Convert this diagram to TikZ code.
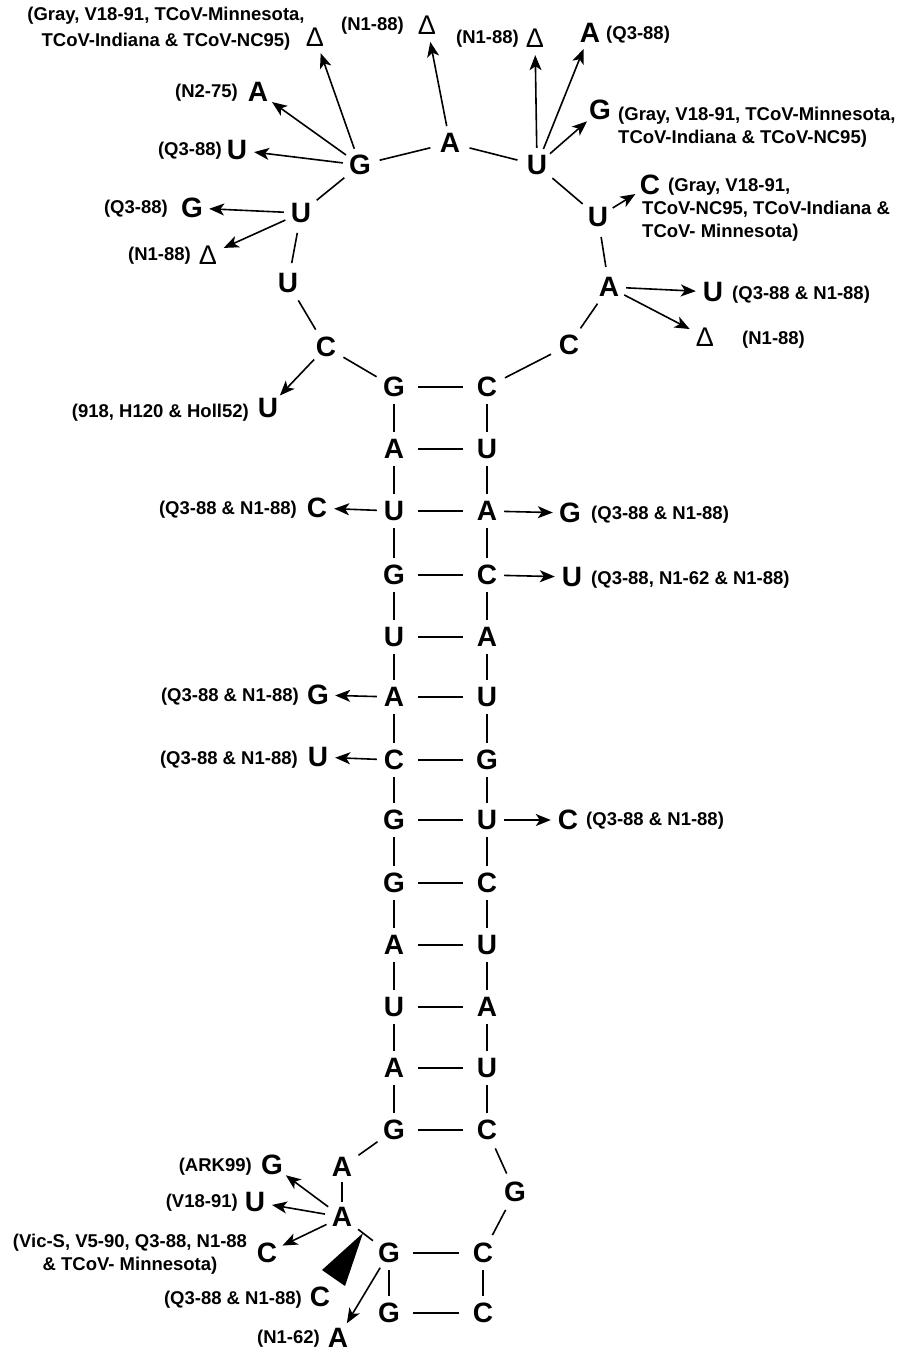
\documentclass[tikz,border=0pt]{standalone}
\usepackage{fontspec}
\setmainfont{Liberation Sans}
\usetikzlibrary{arrows.meta}
\begin{document}
\begin{tikzpicture}[x=1pt,y=-1pt,
  nt/.style={circle,inner sep=0pt,minimum size=34pt,font=\bfseries\fontsize{28}{28}\selectfont},
  del/.style={circle,inner sep=0pt,minimum size=34pt,font=\fontsize{27}{27}\selectfont},
  lab/.style={inner sep=0pt,font=\bfseries\fontsize{18.5}{23}\selectfont},
  bond/.style={line width=1.6pt},
  lbond/.style={bond,shorten >=3pt,shorten <=3pt},
  pair/.style={bond,shorten >=7pt,shorten <=7pt},
  mut/.style={line width=1.6pt,-{Stealth[length=15pt,width=12pt,inset=4pt]}},
]
\useasboundingbox (0,0) rectangle (900,1354);

% ---- stem ----
\foreach \i/\y/\l/\r in {1/387/G/C,2/449/A/U,3/511/U/A,4/575/G/C,5/637/U/A,6/697/A/U,7/760/C/G,8/820/G/U,9/883/G/C,10/945/A/U,11/1007/U/A,12/1068/A/U,13/1130/G/C}{
  \node[nt] (L\i) at (394,\y) {\l};
  \node[nt] (R\i) at (487,\y) {\r};
}
\foreach \i in {1,...,13} \draw[pair] (L\i) -- (R\i);
\foreach \i [count=\j from 2] in {1,...,12} {
  \draw[bond] (L\i) -- (L\j);
  \draw[bond] (R\i) -- (R\j);
}

% ---- loop ----
\node[nt] (g1) at (360,165) {G};
\node[nt] (a1) at (450,143) {A};
\node[nt] (u1) at (537,165) {U};
\node[nt] (u2) at (598,217) {U};
\node[nt] (a2) at (609,287) {A};
\node[nt] (c1) at (569,345) {C};
\node[nt] (c2) at (326,347) {C};
\node[nt] (u3) at (288,283) {U};
\node[nt] (u4) at (301,213) {U};
\foreach \p/\q in {L1/c2,c2/u3,u3/u4,u4/g1,g1/a1,a1/u1,u1/u2,u2/a2,a2/c1,c1/R1}
  \draw[lbond] (\p) -- (\q);

% ---- bottom ----
\node[nt] (bA1) at (342,1167) {A};
\node[nt] (bA2) at (342,1217) {A};
\node[nt] (bG1) at (389,1253) {G};
\node[nt] (bG2) at (389,1313) {G};
\node[nt] (bC1) at (483,1253) {C};
\node[nt] (bC2) at (483,1313) {C};
\node[nt] (bG3) at (515,1192) {G};
\foreach \p/\q in {L13/bA1,bA2/bG1,bC1/bG3,bG3/R13}
  \draw[lbond] (\p) -- (\q);
\draw[bond,shorten >=-2pt,shorten <=-2pt] (bA1) -- (bA2);
\draw[bond] (bG1) -- (bG2);
\draw[bond] (bC1) -- (bC2);
\draw[pair] (bG1) -- (bC1);
\draw[pair] (bG2) -- (bC2);
\fill (363,1233) -- (322,1270) -- (345,1286) -- cycle;

% ---- variants: top left ----
\node[del] (d1) at (315,37) {Δ};
\node[lab,align=center] (l1) at (166,29) {(Gray, V18-91, TCoV-Minnesota,\\[3pt]TCoV-Indiana \& TCoV-NC95)};
\draw[mut] (g1) -- (d1);
\node[nt] (v1) at (258,92) {A};
\node[lab,anchor=east] (l2) at (238,93) {(N2-75)};
\draw[mut] (g1) -- (v1);
\node[nt] (v2) at (237,150) {U};
\node[lab,anchor=east] (l3) at (222,151) {(Q3-88)};
\draw[mut] (g1) -- (v2);
\node[nt] (v3) at (192,208) {G};
\node[lab,anchor=east] (l4) at (168,209) {(Q3-88)};
\draw[mut] (u4) -- (v3);
\node[del] (d2) at (208,255) {Δ};
\node[lab,anchor=east] (l5) at (191,256) {(N1-88)};
\draw[mut] (u4) -- (d2);
\node[nt] (v4) at (268,408) {U};
\node[lab,anchor=east] (l6) at (249,413) {(918, H120 \& Holl52)};
\draw[mut] (c2) -- (v4);

% ---- variants: top right ----
\node[del] (d3) at (427,25) {Δ};
\node[lab,anchor=east] (l7) at (404,26) {(N1-88)};
\draw[mut] (a1) -- (d3);
\node[del] (d4) at (535,38) {Δ};
\node[lab,anchor=east] (l8) at (519,39) {(N1-88)};
\draw[mut] (u1) -- (d4);
\node[nt] (v5) at (590,33) {A};
\node[lab,anchor=west] (l9) at (606,35) {(Q3-88)};
\draw[mut] (u1) -- (v5);
\node[nt] (v6) at (600,110) {G};
\node[lab,anchor=west,align=left] (l10) at (618,127) {(Gray, V18-91, TCoV-Minnesota,\\TCoV-Indiana \& TCoV-NC95)};
\draw[mut] (u1) -- (v6);
\node[nt] (v7) at (650,185) {C};
\node[lab,anchor=west,align=left] (l11) at (642,210) {\hspace*{26pt}(Gray, V18-91,\\TCoV-NC95, TCoV-Indiana \&\\TCoV- Minnesota)};
\draw[mut] (u2) -- (v7);
\node[nt] (v8) at (713,292) {U};
\node[lab,anchor=west] (l12) at (732,295) {(Q3-88 \& N1-88)};
\draw[mut] (a2) -- (v8);
\node[del] (d5) at (705,337) {Δ};
\node[lab,anchor=west] (l13) at (742,340) {(N1-88)};
\draw[mut] (a2) -- (d5);

% ---- variants: stem ----
\node[nt] (v9) at (317,508) {C};
\node[lab,anchor=east] (l14) at (297,510) {(Q3-88 \& N1-88)};
\draw[mut] (L3) -- (v9);
\node[nt] (v10) at (570,513) {G};
\node[lab,anchor=west] (l15) at (591,515) {(Q3-88 \& N1-88)};
\draw[mut] (R3) -- (v10);
\node[nt] (v11) at (572,577) {U};
\node[lab,anchor=west] (l16) at (591,580) {(Q3-88, N1-62 \& N1-88)};
\draw[mut] (R4) -- (v11);
\node[nt] (v12) at (318,695) {G};
\node[lab,anchor=east] (l17) at (299,697) {(Q3-88 \& N1-88)};
\draw[mut] (L6) -- (v12);
\node[nt] (v13) at (318,757) {U};
\node[lab,anchor=east] (l18) at (298,760) {(Q3-88 \& N1-88)};
\draw[mut] (L7) -- (v13);
\node[nt] (v14) at (568,820) {C};
\node[lab,anchor=west] (l19) at (586,821) {(Q3-88 \& N1-88)};
\draw[mut] (R8) -- (v14);

% ---- variants: bottom ----
\node[nt] (v15) at (272,1165) {G};
\node[lab,anchor=east] (l20) at (252,1167) {(ARK99)};
\draw[mut] (bA2) -- (v15);
\node[nt] (v16) at (255,1202) {U};
\node[lab,anchor=east] (l21) at (238,1203) {(V18-91)};
\draw[mut] (bA2) -- (v16);
\node[nt] (v17) at (267,1253) {C};
\node[lab,align=center] (l22) at (130,1254) {(Vic-S, V5-90, Q3-88, N1-88\\\& TCoV- Minnesota)};
\draw[mut] (bA2) -- (v17);
\node[nt] (v18) at (320,1297) {C};
\node[lab,anchor=east] (l23) at (302,1300) {(Q3-88 \& N1-88)};
\node[nt] (v19) at (338,1338) {A};
\node[lab,anchor=east] (l24) at (320,1339) {(N1-62)};
\draw[mut] (bG1) -- (v19);
\end{tikzpicture}
\end{document}
